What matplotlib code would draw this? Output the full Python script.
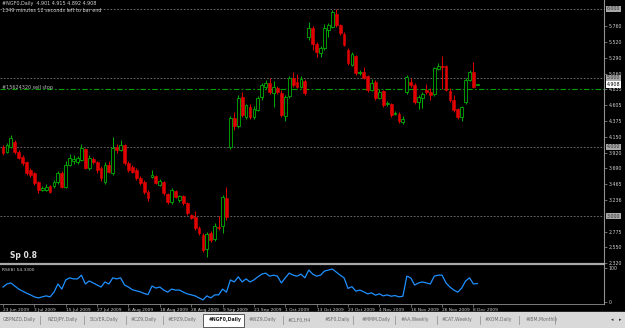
import numpy as np
import matplotlib
matplotlib.use("Agg")
import matplotlib.pyplot as plt
from matplotlib.patches import Rectangle

# daily bars #NGF0, 23 Jun 2009 .. 9 Dec 2009
opens = [4.00, 3.93, 4.00, 4.07, 3.93, 3.86, 3.78, 3.67, 3.62, 3.49,
         3.38, 3.38, 3.43, 3.43, 3.49, 3.62, 3.42, 3.74, 3.80, 3.78,
         3.81, 3.97, 3.70, 3.83, 3.78, 3.70, 3.49, 3.74, 3.62, 4.00,
         3.96, 4.03, 3.77, 3.71, 3.67, 3.55, 3.49, 3.35, 3.57, 3.58,
         3.45, 3.49, 3.32, 3.20, 3.36, 3.23, 3.29, 3.19, 3.01, 2.99,
         2.83, 2.72, 2.52, 2.75, 2.67, 2.84, 2.86, 3.26, 4.00, 4.42,
         4.30, 4.72, 4.43, 4.58, 4.43, 4.54, 4.72, 4.87, 4.93, 4.78,
         4.86, 4.78, 4.45, 4.74, 5.00, 4.94, 4.87, 4.96, 5.59, 5.73,
         5.49, 5.36, 5.43, 5.70, 5.74, 5.93, 5.77, 5.64, 5.41, 5.19,
         5.32, 5.07, 5.09, 5.03, 4.83, 4.94, 4.71, 4.81, 4.62, 4.62,
         4.48, 4.48, 4.36, 4.80, 4.94, 4.90, 4.65, 4.71, 4.83, 4.80,
         4.77, 5.13, 5.17, 5.17, 4.81, 4.68, 4.55, 4.43, 4.65, 4.97,
         5.09, 4.901]
highs = [4.03, 4.06, 4.17, 4.10, 3.95, 3.88, 3.80, 3.70, 3.64, 3.51,
         3.44, 3.47, 3.45, 3.52, 3.65, 3.65, 3.80, 3.90, 3.88, 3.87,
         4.05, 3.99, 3.88, 3.86, 3.80, 3.72, 3.78, 3.80, 4.14, 4.05,
         4.10, 4.05, 3.80, 3.74, 3.69, 3.58, 3.52, 3.37, 3.66, 3.60,
         3.53, 3.51, 3.34, 3.40, 3.38, 3.31, 3.31, 3.21, 3.03, 3.07,
         2.85, 2.75, 2.77, 2.78, 2.90, 3.00, 3.31, 3.42, 4.45, 4.51,
         4.75, 4.80, 4.63, 4.62, 4.60, 4.74, 4.93, 4.97, 5.00, 4.95,
         4.88, 4.83, 4.75, 5.03, 5.08, 5.06, 5.03, 4.99, 5.81, 5.76,
         5.52, 5.46, 5.78, 5.80, 5.98, 6.00, 5.78, 5.66, 5.44, 5.37,
         5.34, 5.12, 5.16, 5.05, 4.98, 4.97, 4.84, 4.83, 4.67, 4.64,
         4.52, 4.50, 4.45, 5.04, 5.00, 4.93, 4.76, 4.80, 4.92, 4.85,
         5.16, 5.22, 5.32, 5.19, 4.85, 4.75, 4.57, 4.60, 5.00, 5.12,
         5.23, 4.915]
lows = [3.88, 3.91, 3.98, 3.90, 3.82, 3.74, 3.60, 3.57, 3.45, 3.34,
        3.36, 3.36, 3.33, 3.41, 3.47, 3.40, 3.40, 3.72, 3.76, 3.75,
        3.79, 3.68, 3.66, 3.76, 3.62, 3.50, 3.47, 3.62, 3.60, 3.92,
        3.94, 3.74, 3.64, 3.62, 3.52, 3.45, 3.32, 3.22, 3.55, 3.46,
        3.43, 3.30, 3.18, 3.17, 3.26, 3.21, 3.16, 3.02, 2.95, 2.80,
        2.72, 2.48, 2.40, 2.62, 2.64, 2.80, 2.75, 2.94, 3.97, 4.25,
        4.27, 4.43, 4.40, 4.40, 4.40, 4.52, 4.68, 4.84, 4.77, 4.58,
        4.77, 4.43, 4.38, 4.71, 4.87, 4.85, 4.85, 4.76, 5.55, 5.40,
        5.31, 5.30, 5.41, 5.60, 5.72, 5.74, 5.62, 5.46, 5.19, 5.17,
        5.04, 5.04, 4.98, 4.80, 4.81, 4.68, 4.69, 4.58, 4.60, 4.43,
        4.46, 4.35, 4.33, 4.77, 4.87, 4.63, 4.55, 4.57, 4.77, 4.68,
        4.74, 5.11, 4.84, 4.81, 4.65, 4.51, 4.40, 4.38, 4.63, 4.95,
        4.85, 4.892]
closes = [3.91, 4.03, 4.13, 3.93, 3.84, 3.77, 3.62, 3.59, 3.48, 3.38,
          3.41, 3.42, 3.35, 3.49, 3.62, 3.42, 3.74, 3.84, 3.83, 3.84,
          3.99, 3.70, 3.84, 3.78, 3.67, 3.55, 3.74, 3.64, 3.99, 3.96,
          4.03, 3.77, 3.67, 3.64, 3.55, 3.48, 3.35, 3.26, 3.59, 3.48,
          3.51, 3.33, 3.20, 3.38, 3.28, 3.29, 3.19, 3.04, 2.97, 2.83,
          2.75, 2.51, 2.74, 2.65, 2.86, 2.83, 3.28, 2.99, 4.42, 4.30,
          4.71, 4.46, 4.61, 4.43, 4.55, 4.71, 4.90, 4.93, 4.80, 4.87,
          4.80, 4.46, 4.72, 5.00, 4.90, 4.87, 4.99, 4.78, 5.73, 5.49,
          5.38, 5.43, 5.73, 5.77, 5.96, 5.77, 5.65, 5.48, 5.22, 5.35,
          5.07, 5.09, 5.00, 4.83, 4.93, 4.71, 4.80, 4.61, 4.64, 4.46,
          4.49, 4.38, 4.41, 5.01, 4.90, 4.65, 4.72, 4.77, 4.80, 4.75,
          5.14, 5.17, 5.16, 4.83, 4.68, 4.54, 4.43, 4.58, 4.97, 5.09,
          4.87, 4.908]
rsi = [44, 53, 56, 47, 38, 32, 26, 21, 15, 12,
       15, 18, 15, 29, 53, 38, 65, 71, 68, 68,
       79, 53, 62, 56, 50, 44, 59, 53, 71, 68,
       71, 50, 44, 36, 33, 30, 25, 22, 47, 41,
       44, 35, 29, 38, 35, 35, 29, 24, 21, 18,
       12, 6, 18, 12, 21, 21, 38, 29, 65, 59,
       74, 59, 68, 59, 65, 74, 82, 85, 76, 79,
       76, 56, 71, 85, 79, 76, 82, 71, 94, 82,
       76, 79, 91, 94, 97, 88, 79, 71, 40, 45,
       32, 35, 30, 24, 27, 20, 24, 18, 21, 17,
       19, 15, 17, 76, 71, 50, 56, 59, 56, 53,
       76, 79, 79, 56, 44, 35, 29, 41, 62, 71,
       53, 54.33]

date_labels = ["23 Jun 2009", "3 Jul 2009", "15 Jul 2009", "27 Jul 2009",
               "6 Aug 2009", "18 Aug 2009", "28 Aug 2009", "9 Sep 2009",
               "21 Sep 2009", "1 Oct 2009", "13 Oct 2009", "23 Oct 2009",
               "4 Nov 2009", "16 Nov 2009", "26 Nov 2009", "8 Dec 2009"]
price_ticks = [5.760, 5.520, 5.290, 5.060, 4.835, 4.605, 4.375, 4.150,
               3.920, 3.690, 3.465, 3.236, 2.775, 2.550, 2.320]
round_levels = [6.0, 5.0, 4.0, 3.0]
sell_stop = 4.835
tabs = ["GBPNZD,Daily", "NZDJPY,Daily", "SILVER,Daily", "#CZ9,Daily",
        "#EPZ9,Daily", "#NGF0,Daily", "#WZ9,Daily", "#CLF0,H4", "#SF0,Daily",
        "#MMM,Daily", "#AA,Weekly", "#CAT,Weekly", "#XOM,Daily", "#IBM,Monthly"]
tab_x = [3, 48, 90, 131, 168, 209, 249, 288, 325, 362, 401, 442, 485, 526]
tab_sep = [40, 84, 126, 163, 283, 353, 395, 437, 480, 519, 555]

W, H = 625, 328
UP = "#00b000"
DN = "#e00000"
TXT = "#d0d0d0"


def rect(x0, y0, x1, y1):
    return [x0 / W, 1 - y1 / H, (x1 - x0) / W, (y1 - y0) / H]


fig = plt.figure(figsize=(6.25, 3.28), dpi=100, facecolor="black")
ax = fig.add_axes(rect(0, 0, 604, 263), facecolor="black")
ax_rsi = fig.add_axes(rect(0, 264, 604, 304), facecolor="black", sharex=ax)

o = np.array(opens)
c = np.array(closes)
idx = np.arange(len(o))
up = c >= o
colors = np.where(up, UP, DN)

# candles
ax.vlines(idx, lows, highs, colors=colors, lw=0.7, zorder=2)
ax.bar(idx[up], (c - o)[up], bottom=o[up], width=0.72,
       facecolor="black", edgecolor=UP, lw=0.6, zorder=3)
ax.bar(idx[~up], (o - c)[~up], bottom=c[~up], width=0.72,
       facecolor=DN, edgecolor=DN, lw=0.4, zorder=3)

for lv in round_levels:
    ax.axhline(lv, color="#7a7a7a", lw=0.6, ls=(0, (2, 2)), zorder=1)
ax.axhline(sell_stop, color="#00a000", lw=0.8, ls=(0, (5, 2, 1.5, 2)), zorder=1)

ax.set_xlim(-0.77, 153.3)
ax.set_ylim(2.319, 6.130)
ax.yaxis.tick_right()
ax.set_yticks(price_ticks)
ax.set_yticklabels(["%.3f" % v for v in price_ticks])
ax.tick_params(axis="y", colors="#909090", labelcolor=TXT, labelsize=3.4,
               length=2, width=0.5, pad=1.5)
ax.tick_params(axis="x", bottom=False, labelbottom=False)
for s in ["left", "top", "bottom"]:
    ax.spines[s].set_visible(False)
ax.spines["right"].set_color("#909090")
ax.spines["right"].set_linewidth(0.8)

for lv in round_levels:
    ax.annotate("%.3f" % lv, xy=(1, lv), xycoords=("axes fraction", "data"),
                xytext=(2, 0), textcoords="offset points", va="center",
                fontsize=3.4, color="#303030",
                bbox=dict(boxstyle="square,pad=0.15", fc="#a8a8a8", ec="none"))
ax.annotate("%.3f" % closes[-1], xy=(1, closes[-1]),
            xycoords=("axes fraction", "data"), xytext=(2, 0),
            textcoords="offset points", va="center", fontsize=3.4,
            color="black",
            bbox=dict(boxstyle="square,pad=0.15", fc="white", ec="none"))

# RSI panel
ax_rsi.plot(idx, rsi, color="#1e90ff", lw=0.9)
ax_rsi.set_ylim(-5.9, 111.8)
ax_rsi.yaxis.tick_right()
ax_rsi.set_yticks([0, 100])
ax_rsi.set_yticklabels(["0", "100"])
ax_rsi.tick_params(axis="y", colors="#909090", labelcolor=TXT, labelsize=3.4,
                   length=2, width=0.5, pad=1.5)
ax_rsi.set_xticks(idx[::8])
ax_rsi.set_xticklabels(date_labels)
ax_rsi.tick_params(axis="x", colors="#909090", labelcolor=TXT, labelsize=3.2,
                   length=2, width=0.5, pad=0.8)
for lab in ax_rsi.get_xticklabels():
    lab.set_ha("left")
ax_rsi.spines["left"].set_visible(False)
ax_rsi.spines["top"].set_color("#a8a8a8")
ax_rsi.spines["top"].set_linewidth(1.6)
ax_rsi.spines["right"].set_color("#909090")
ax_rsi.spines["right"].set_linewidth(0.8)
ax_rsi.spines["bottom"].set_color("#909090")
ax_rsi.spines["bottom"].set_linewidth(0.6)
ax_rsi.text(0.003, 0.86, "RSI(8) %.4f" % rsi[-1], transform=ax_rsi.transAxes,
            fontsize=3.2, color=TXT, va="center")

# texts and tab bar in pixel coordinates
ov = fig.add_axes([0, 0, 1, 1])
ov.set_xlim(0, W)
ov.set_ylim(H, 0)
ov.axis("off")
ov.text(2, 4, "#NGF0,Daily  %.3f %.3f %.3f %.3f"
        % (opens[-1], highs[-1], lows[-1], closes[-1]),
        fontsize=3.5, color=TXT, va="center")
ov.text(2, 10.5, "1349 minutes 12 seconds left to bar end",
        fontsize=3.5, color=TXT, va="center")
ov.text(2, 87, "#15624320 sell stop", fontsize=3.5, color="#b8b8b8",
        va="center")
ov.text(10, 256, "Sp 0.8", fontsize=5.5, color="#e0e0e0",
        fontweight="bold", va="center")

ov.add_patch(Rectangle((0, 312), W, 16, color="#d9d9d9", zorder=1))
ov.add_patch(Rectangle((203, 313.5), 41, 13, facecolor="white",
                       edgecolor="#404040", lw=0.6, zorder=2))
for name, x in zip(tabs, tab_x):
    active = name == "#NGF0,Daily"
    ov.text(x, 320, name, fontsize=3.3, va="center", zorder=3,
            color="#202020" if active else "#6a6a6a",
            fontweight="bold" if active else "normal")
for x in tab_sep:
    ov.plot([x, x], [315.5, 324], color="#8a8a8a", lw=0.5, zorder=3)
ov.text(612, 320, "\u25c2", fontsize=3.5, color="#303030", ha="center",
        va="center", zorder=3)
ov.text(620, 320, "\u25b8", fontsize=3.5, color="#303030", ha="center",
        va="center", zorder=3)

fig.savefig("out.png", dpi=100, facecolor="black")
